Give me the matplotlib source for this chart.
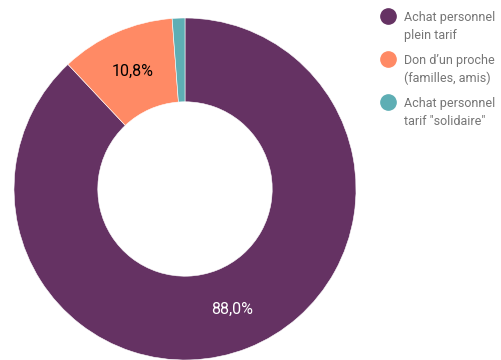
import matplotlib
matplotlib.use('Agg')
import matplotlib.pyplot as plt
from matplotlib.lines import Line2D

labels = ['Achat personnel\nplein tarif', 'Don d\u2019un proche\n(familles, amis)',
          'Achat personnel\ntarif "solidaire"']
values = [88.0, 10.8, 1.2]
colors = ['#653263', '#ff8a65', '#5eaeb4']
text_colors = ['white', 'black', 'black']

plt.rcParams['font.family'] = ['Roboto', 'DejaVu Sans']

W, H = 502, 360
fig = plt.figure(figsize=(W / 100, H / 100), dpi=100)
ax = fig.add_axes([14 / W, 0, 342 / W, 342 / H])

wedges, texts, autotexts = ax.pie(
    values, colors=colors, startangle=90, counterclock=False,
    radius=1.0, pctdistance=0.755,
    autopct=lambda p: ('%.1f%%' % p).replace('.', ',') if p > 5 else '',
    wedgeprops=dict(width=0.49, edgecolor='white', linewidth=0.4),
    textprops=dict(fontsize=11.5))
for t, c in zip(autotexts, text_colors):
    t.set_color(c)
ax.set_xlim(-1, 1)
ax.set_ylim(-1, 1)
ax.set_aspect('equal')

# legend: dot aligned with the first line of each two-line label
for i, (lab, c) in enumerate(zip(labels, colors)):
    y0 = 16 + 43 * i
    fig.add_artist(Line2D([388 / W], [1 - y0 / H], marker='o', linestyle='',
                          markersize=11, markerfacecolor=c, markeredgecolor=c,
                          transform=fig.transFigure))
    for j, line in enumerate(lab.split('\n')):
        fig.text(404 / W, 1 - (y0 + 18 * j) / H, line, fontsize=9,
                 color='#757575', ha='left', va='center_baseline')

fig.savefig('out.png', dpi=100)
